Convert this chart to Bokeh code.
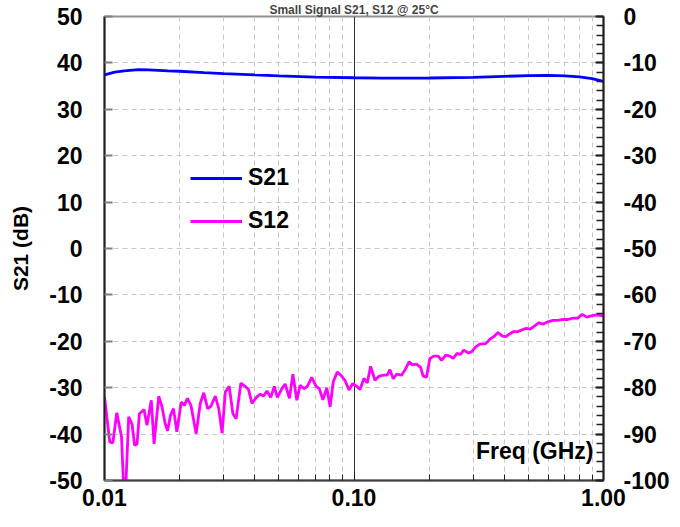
from bokeh.plotting import figure
from bokeh.models import (Range1d, LinearAxis, FixedTicker, SingleIntervalTicker,
                          CustomJSTickFormatter, Label, Legend, LegendItem)
from bokeh.embed import file_html
from bokeh.resources import INLINE

title_text = "Small Signal S21, S12 @ 25°C"

# S21 (left axis, dB)
s21_freq = [0.010, 0.011, 0.012, 0.0137, 0.015, 0.018, 0.020, 0.025, 0.030, 0.040,
            0.050, 0.070, 0.100, 0.130, 0.200, 0.300, 0.400, 0.500, 0.600, 0.700,
            0.800, 0.900, 1.000]
s21_db = [37.4, 38.0, 38.3, 38.55, 38.5, 38.3, 38.2, 37.9, 37.7, 37.4,
          37.2, 36.95, 36.8, 36.7, 36.75, 36.9, 37.1, 37.25, 37.3, 37.2,
          37.0, 36.6, 36.0]

# S12 (right axis, dB)
s12_freq = [0.0100, 0.0105, 0.0108, 0.0112, 0.0117, 0.0119, 0.0122, 0.0125, 0.0129, 0.0132,
            0.0135, 0.0138, 0.0144, 0.0148, 0.0154, 0.0158, 0.0165, 0.0170, 0.0175, 0.0179,
            0.0184, 0.0189, 0.0195, 0.0203, 0.0209, 0.0215, 0.0222, 0.0233, 0.0242, 0.0250,
            0.0259, 0.0267, 0.0278, 0.0287, 0.0296, 0.0305, 0.0316, 0.0327, 0.0337, 0.0352,
            0.0366, 0.0378, 0.0390, 0.0406, 0.0421, 0.0434, 0.0448, 0.0464, 0.0479, 0.0493,
            0.0514, 0.0530, 0.0551, 0.0569, 0.0590, 0.0608, 0.0631, 0.0650, 0.0677, 0.0705,
            0.0726, 0.0750, 0.0778, 0.0802, 0.0826, 0.0857, 0.0885, 0.0920, 0.0955, 0.0988,
            0.1025, 0.1057, 0.1096, 0.1130, 0.1166, 0.1213, 0.1262, 0.1318, 0.1359, 0.1393,
            0.1436, 0.1482, 0.1551, 0.1600, 0.1664, 0.1717, 0.1781, 0.1849, 0.1893, 0.1953,
            0.2014, 0.2089, 0.2174, 0.2243, 0.2333, 0.2421, 0.2496, 0.2590, 0.2672, 0.2754,
            0.2866, 0.2957, 0.3076, 0.3192, 0.3373, 0.3499, 0.3631, 0.3777, 0.3934, 0.4055,
            0.4234, 0.4365, 0.4542, 0.4686, 0.4907, 0.5091, 0.5297, 0.5511, 0.5718, 0.5988,
            0.6268, 0.6565, 0.6874, 0.7198, 0.7537, 0.7892, 0.8218, 0.8574, 0.8928, 0.9350,
            1.0000]
s12_db = [-82.0, -91.7, -91.9, -85.4, -90.6, -100.0, -100.0, -86.3, -87.9, -92.4,
          -92.2, -85.6, -84.7, -88.1, -82.7, -92.1, -81.8, -84.1, -87.7, -89.3,
          -85.9, -84.5, -89.5, -83.1, -83.8, -82.3, -83.8, -89.9, -83.4, -81.1,
          -84.5, -84.0, -81.8, -84.5, -89.8, -80.9, -79.7, -85.6, -86.7, -79.0,
          -79.7, -80.4, -83.4, -82.1, -81.4, -81.8, -80.7, -82.1, -79.7, -82.1,
          -80.2, -79.2, -82.3, -77.1, -82.7, -79.5, -80.2, -79.7, -77.8, -79.7,
          -80.2, -82.6, -80.0, -84.1, -78.7, -76.6, -77.3, -78.4, -80.5, -79.1,
          -79.7, -80.4, -78.0, -79.0, -75.4, -78.4, -77.5, -77.3, -77.3, -76.1,
          -78.1, -77.1, -77.3, -76.2, -74.4, -75.1, -74.9, -75.6, -77.5, -77.7,
          -73.7, -73.2, -73.2, -74.1, -73.0, -73.2, -73.7, -72.6, -72.8, -71.9,
          -72.5, -72.3, -71.2, -70.6, -70.5, -69.6, -69.0, -68.1, -68.9, -69.0,
          -68.3, -67.9, -67.9, -67.6, -67.2, -67.4, -66.7, -66.0, -66.3, -65.8,
          -65.5, -65.5, -65.3, -65.3, -65.0, -65.0, -64.2, -64.8, -64.5, -64.3,
          -64.5]

x_major = [0.01, 0.1, 1.0]
x_minor = [0.02, 0.03, 0.04, 0.05, 0.06, 0.07, 0.08, 0.09,
           0.2, 0.3, 0.4, 0.5, 0.6, 0.7, 0.8, 0.9]
left_ticks = [-50, -40, -30, -20, -10, 0, 10, 20, 30, 40, 50]
x_label = "Freq (GHz)"
y_label = "S21 (dB)"

FONT = "Liberation Sans"
TICK_FS = "23px"
int_fmt = CustomJSTickFormatter(code="return tick.toFixed(0);")

p = figure(width=672, height=519, x_axis_type="log", x_range=(0.01, 1.0),
           y_range=(-50, 50), output_backend="svg", toolbar_location=None,
           min_border_left=104, min_border_right=68, min_border_top=12,
           min_border_bottom=39, background_fill_color="white",
           border_fill_color="white")
p.outline_line_color = "#909090"
p.outline_line_width = 2

p.title.text = title_text
p.title.align = "center"
p.title.text_font = FONT
p.title.text_font_style = "bold"
p.title.text_font_size = "12px"
p.title.standoff = 0
p.title.offset = 0

p.extra_y_ranges = {"r": Range1d(-100, 0)}

# bottom axis
xa = p.xaxis[0]
xa.ticker = FixedTicker(ticks=x_major, minor_ticks=x_minor)
xa.formatter = CustomJSTickFormatter(code="return tick.toFixed(2);")
xa.major_tick_in = 8
xa.major_tick_out = 0
xa.minor_tick_in = 6
xa.minor_tick_out = 0
xa.axis_line_color = "#404040"
xa.axis_line_width = 2
xa.major_tick_line_color = "#202020"
xa.minor_tick_line_color = "#202020"
xa.major_label_text_font = FONT
xa.major_label_text_font_style = "bold"
xa.major_label_text_font_size = TICK_FS
xa.major_label_text_color = "black"
xa.major_label_standoff = 8

# left axis
ya = p.yaxis[0]
ya.ticker = FixedTicker(ticks=left_ticks)
ya.formatter = int_fmt
ya.major_tick_in = 8
ya.major_tick_out = 0
ya.minor_tick_in = 0
ya.minor_tick_out = 0
ya.major_tick_line_color = "#808080"
ya.major_tick_line_width = 2
ya.axis_line_color = "#202020"
ya.axis_line_width = 2
ya.major_label_text_font = FONT
ya.major_label_text_font_style = "bold"
ya.major_label_text_font_size = TICK_FS
ya.major_label_text_color = "black"
ya.major_label_standoff = 22
ya.axis_label = y_label
ya.axis_label_text_font = FONT
ya.axis_label_text_font_style = "bold"
ya.axis_label_text_font_size = "21px"
ya.axis_label_text_color = "black"
ya.axis_label_standoff = 14

# right axis
ra = LinearAxis(y_range_name="r", ticker=SingleIntervalTicker(interval=10, num_minor_ticks=5),
                formatter=CustomJSTickFormatter(code="return tick.toFixed(0);"))
ra.major_tick_in = 8
ra.major_tick_out = 0
ra.minor_tick_in = 7
ra.minor_tick_out = 0
ra.major_tick_line_width = 2
ra.minor_tick_line_width = 1.5
ra.major_tick_line_color = "#202020"
ra.minor_tick_line_color = "#202020"
ra.axis_line_color = "#202020"
ra.axis_line_width = 2
ra.major_label_text_font = FONT
ra.major_label_text_font_style = "bold"
ra.major_label_text_font_size = TICK_FS
ra.major_label_text_color = "black"
ra.major_label_standoff = 20
p.add_layout(ra, "right")

# grids
p.xgrid.ticker = FixedTicker(ticks=x_major, minor_ticks=x_minor)
p.xgrid.grid_line_color = "#303030"
p.xgrid.grid_line_width = 1
p.xgrid.minor_grid_line_color = "#c8c8c8"
p.xgrid.minor_grid_line_dash = "5 4"
p.xgrid.minor_grid_line_width = 1
p.ygrid.ticker = FixedTicker(ticks=left_ticks)
p.ygrid.grid_line_color = "#c8c8c8"
p.ygrid.grid_line_dash = "5 4"
p.ygrid.grid_line_width = 1

r21 = p.line(s21_freq, s21_db, line_color="#0000FF", line_width=2.8)
r12 = p.line(s12_freq, s12_db, line_color="#FF00FF", line_width=2.8, y_range_name="r")

legend = Legend(items=[LegendItem(label="S21", renderers=[r21]),
                       LegendItem(label="S12", renderers=[r12])],
                location=(86, 246))
legend.background_fill_alpha = 0
legend.border_line_alpha = 0
legend.glyph_width = 52
legend.glyph_height = 26
legend.label_height = 26
legend.label_standoff = 6
legend.spacing = 16
legend.padding = 0
legend.margin = 0
legend.label_text_font = FONT
legend.label_text_font_style = "bold"
legend.label_text_font_size = "23px"
legend.label_text_color = "black"
p.add_layout(legend, "center")

p.add_layout(Label(x=1.0, y=-43.7, x_offset=-10, text=x_label, text_align="right",
                   text_baseline="middle", text_font=FONT, text_font_style="bold",
                   text_font_size="23px", text_color="black"))

open("out.html", "w").write(file_html(p, INLINE))
